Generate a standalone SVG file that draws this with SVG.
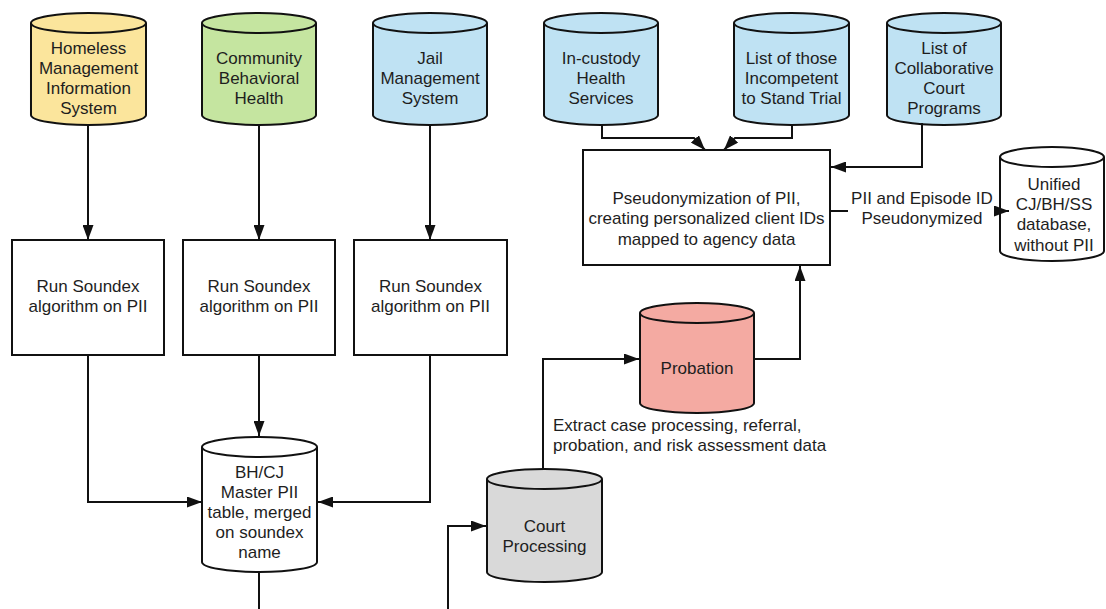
<svg xmlns="http://www.w3.org/2000/svg" width="1106" height="609" viewBox="0 0 1106 609">
<defs>
<marker id="ah" viewBox="0 0 15 11" refX="15" refY="5.5" markerWidth="15" markerHeight="11" markerUnits="userSpaceOnUse" orient="auto">
<path d="M0,0 L15,5.5 L0,11 Z" fill="#111"/>
</marker>
<style>
.shape{stroke:#111;stroke-width:2}
.box{fill:#fff;stroke:#111;stroke-width:2}
.conn{fill:none;stroke:#111;stroke-width:2;marker-end:url(#ah)}
.line{fill:none;stroke:#111;stroke-width:2}
text{font-family:"Liberation Sans",Arial,sans-serif;font-size:17px;fill:#1e1e1e}
.c{text-anchor:middle}
.yellow{fill:#fbe59c}
.green{fill:#c5e5a0}
.blue{fill:#bfe2f3}
.pink{fill:#f4aaa2}
.gray{fill:#d9d9d9}
.white{fill:#fff}
.top{fill:none;stroke:#111;stroke-width:2}
</style>
</defs>
<rect width="1106" height="609" fill="#fff"/>

<g id="homeless">
<path class="shape yellow" d="M31,23 A57.5,10 0 0 1 146,23 V115 A57.5,10 0 0 1 31,115 Z"/>
<path class="top" d="M31,23 A57.5,10 0 0 0 146,23"/>
<text class="c" x="88.5" y="54">Homeless</text>
<text class="c" x="88.5" y="74">Management</text>
<text class="c" x="88.5" y="94">Information</text>
<text class="c" x="88.5" y="114">System</text>
</g>

<g id="community">
<path class="shape green" d="M202,23 A57,10 0 0 1 316,23 V115 A57,10 0 0 1 202,115 Z"/>
<path class="top" d="M202,23 A57,10 0 0 0 316,23"/>
<text class="c" x="259" y="64">Community</text>
<text class="c" x="259" y="84">Behavioral</text>
<text class="c" x="259" y="104">Health</text>
</g>

<g id="jail">
<path class="shape blue" d="M373,23 A57,10 0 0 1 487,23 V115 A57,10 0 0 1 373,115 Z"/>
<path class="top" d="M373,23 A57,10 0 0 0 487,23"/>
<text class="c" x="430" y="64">Jail</text>
<text class="c" x="430" y="84">Management</text>
<text class="c" x="430" y="104">System</text>
</g>

<g id="incustody">
<path class="shape blue" d="M544,23 A57,10 0 0 1 658,23 V115 A57,10 0 0 1 544,115 Z"/>
<path class="top" d="M544,23 A57,10 0 0 0 658,23"/>
<text class="c" x="601" y="64">In-custody</text>
<text class="c" x="601" y="84">Health</text>
<text class="c" x="601" y="104">Services</text>
</g>

<g id="ist">
<path class="shape blue" d="M734,23 A57.5,10 0 0 1 849,23 V115 A57.5,10 0 0 1 734,115 Z"/>
<path class="top" d="M734,23 A57.5,10 0 0 0 849,23"/>
<text class="c" x="791.5" y="64">List of those</text>
<text class="c" x="791.5" y="84">Incompetent</text>
<text class="c" x="791.5" y="104">to Stand Trial</text>
</g>

<g id="collaborative">
<path class="shape blue" d="M887,23 A57,10 0 0 1 1001,23 V115 A57,10 0 0 1 887,115 Z"/>
<path class="top" d="M887,23 A57,10 0 0 0 1001,23"/>
<text class="c" x="944" y="54">List of</text>
<text class="c" x="944" y="74">Collaborative</text>
<text class="c" x="944" y="94">Court</text>
<text class="c" x="944" y="114">Programs</text>
</g>

<g id="soundex1">
<rect class="box" x="12" y="240" width="152" height="115"/>
<text class="c" x="88" y="292">Run Soundex</text>
<text class="c" x="88" y="312">algorithm on PII</text>
</g>
<g id="soundex2">
<rect class="box" x="183" y="240" width="152" height="115"/>
<text class="c" x="259" y="292">Run Soundex</text>
<text class="c" x="259" y="312">algorithm on PII</text>
</g>
<g id="soundex3">
<rect class="box" x="354" y="240" width="153" height="115"/>
<text class="c" x="430.5" y="292">Run Soundex</text>
<text class="c" x="430.5" y="312">algorithm on PII</text>
</g>

<g id="master">
<path class="shape white" d="M202,447 A57.5,10 0 0 1 317,447 V562 A57.5,10 0 0 1 202,562 Z"/>
<path class="top" d="M202,447 A57.5,10 0 0 0 317,447"/>
<text class="c" x="259.5" y="478">BH/CJ</text>
<text class="c" x="259.5" y="498">Master PII</text>
<text class="c" x="259.5" y="518">table, merged</text>
<text class="c" x="259.5" y="538">on soundex</text>
<text class="c" x="259.5" y="558">name</text>
</g>

<g id="court">
<path class="shape gray" d="M487,479 A57.5,10 0 0 1 602,479 V572 A57.5,10 0 0 1 487,572 Z"/>
<path class="top" d="M487,479 A57.5,10 0 0 0 602,479"/>
<text class="c" x="544.5" y="532">Court</text>
<text class="c" x="544.5" y="552">Processing</text>
</g>

<g id="probation">
<path class="shape pink" d="M640,313 A57,10 0 0 1 754,313 V403 A57,10 0 0 1 640,403 Z"/>
<path class="top" d="M640,313 A57,10 0 0 0 754,313"/>
<text class="c" x="697" y="374">Probation</text>
</g>

<g id="pseudonymization">
<rect class="box" x="583" y="150" width="247" height="115"/>
<text class="c" x="706.5" y="204">Pseudonymization of PII,</text>
<text class="c" x="706.5" y="224">creating personalized client IDs</text>
<text class="c" x="706.5" y="245">mapped to agency data</text>
</g>

<g id="unified">
<path class="shape white" d="M1000,157 A52,10 0 0 1 1104,157 V251 A52,10 0 0 1 1000,251 Z"/>
<path class="top" d="M1000,157 A52,10 0 0 0 1104,157"/>
<text class="c" x="1054" y="190">Unified</text>
<text class="c" x="1054" y="210">CJ/BH/SS</text>
<text class="c" x="1054" y="230">database,</text>
<text class="c" x="1054" y="251">without PII</text>
</g>

<g id="connectors">
<path class="conn" d="M88,125 V240"/>
<path class="conn" d="M259,125 V240"/>
<path class="conn" d="M430,125 V240"/>
<path class="conn" d="M88,355 V502 H202"/>
<path class="conn" d="M259,355 V436"/>
<path class="conn" d="M430,355 V502 H318"/>
<path class="line" d="M259,572 V615 H448"/>
<path class="conn" d="M448,615 V526 H486"/>
<path class="conn" d="M543,469 V359 H639"/>
<path class="conn" d="M754,359 H800 V266"/>
<path class="conn" d="M602,125 V138 H694 L705,150"/>
<path class="conn" d="M792,125 V138 H735 L724,150"/>
<path class="conn" d="M922,123 V167 H831"/>
<path class="line" d="M830,211 H848"/>
<path class="conn" d="M994,211 H1009"/>
<text class="c" x="922" y="204">PII and Episode ID</text>
<text class="c" x="922" y="224">Pseudonymized</text>
<text x="553" y="431">Extract case processing, referral,</text>
<text x="553" y="451">probation, and risk assessment data</text>
</g>
</svg>
